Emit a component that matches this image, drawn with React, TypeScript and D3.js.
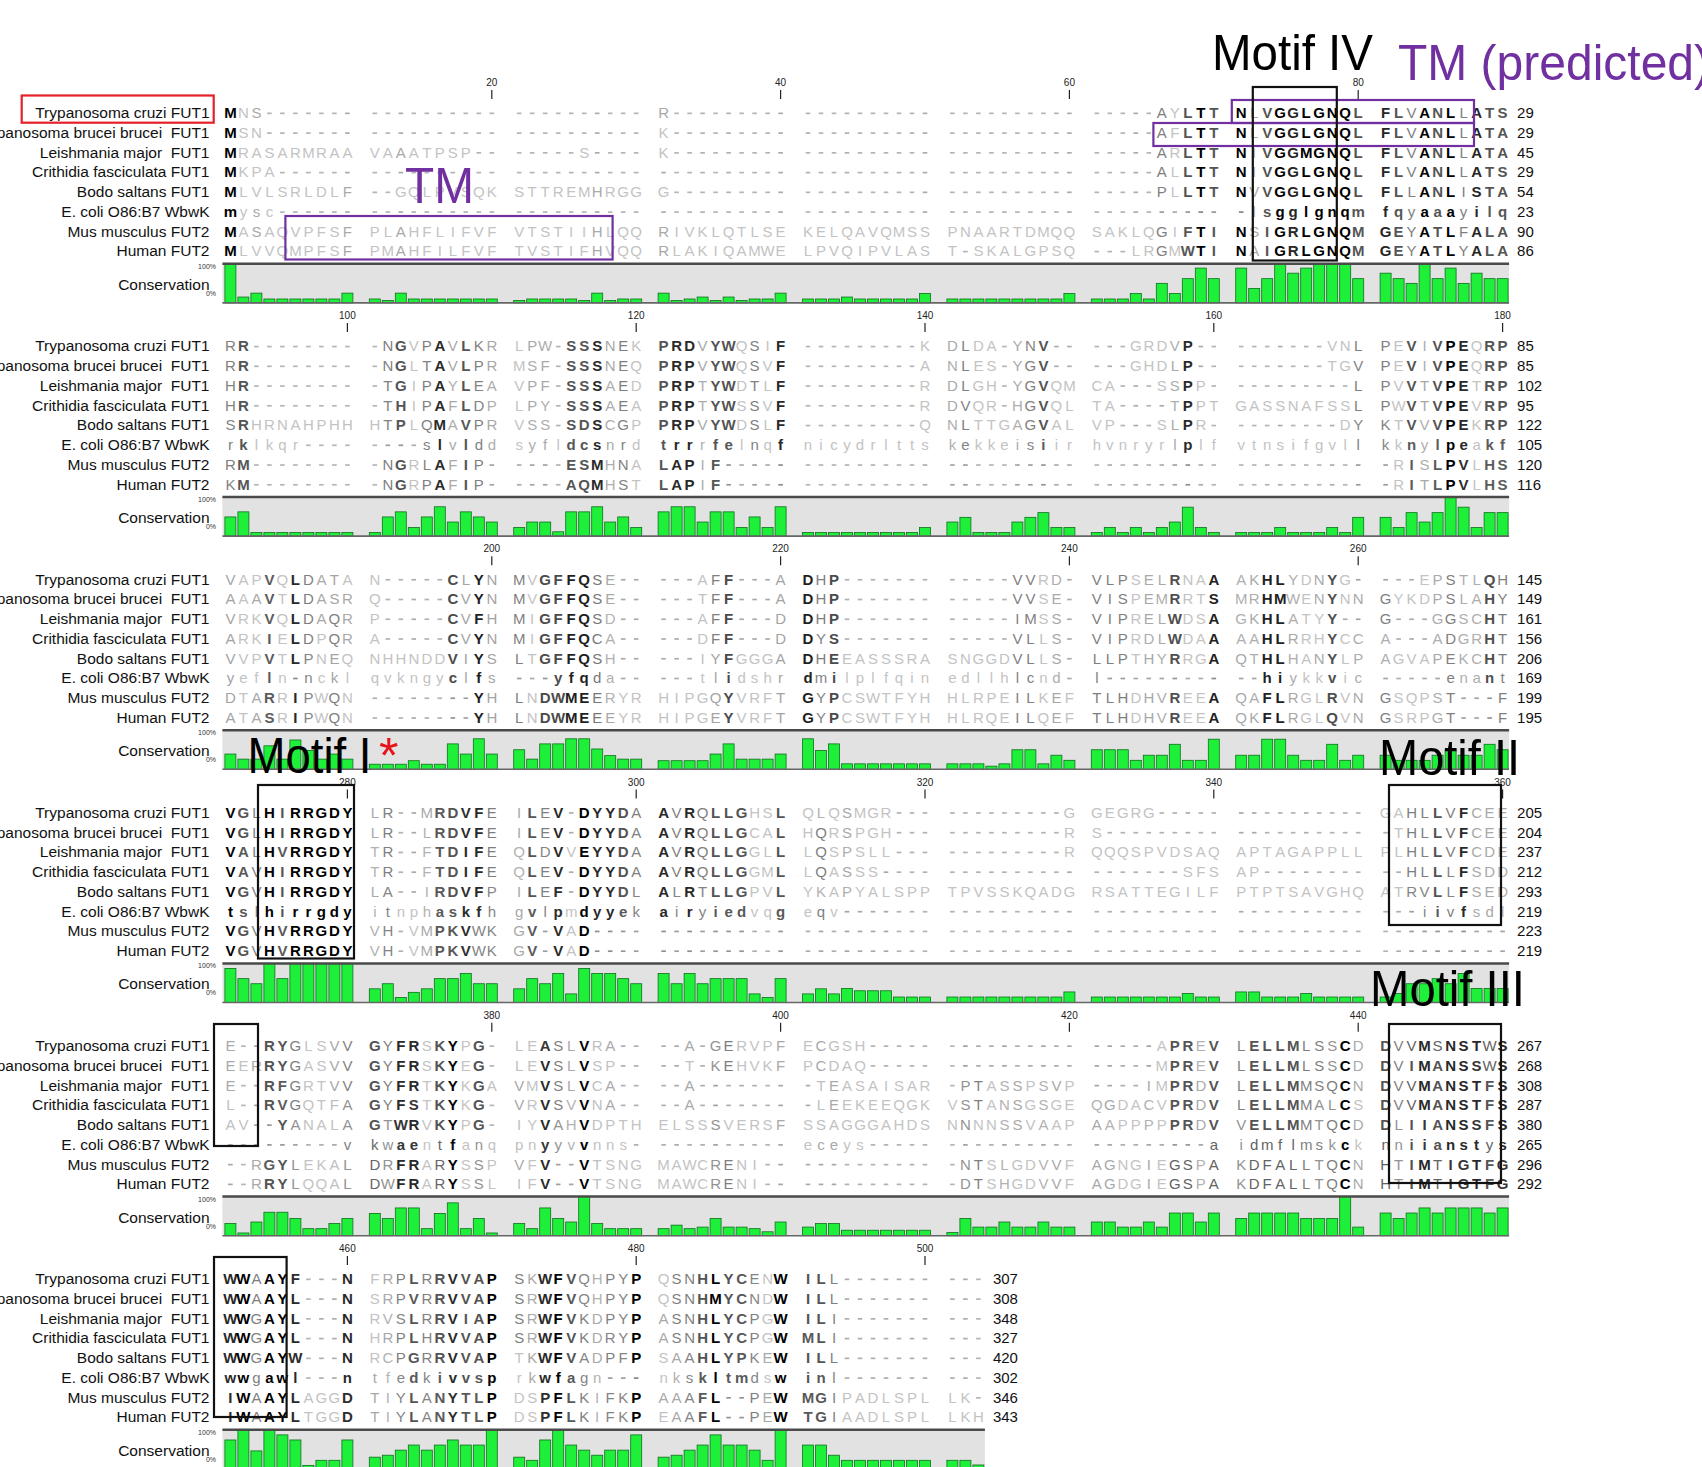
import React from 'react';
import * as d3 from 'd3';

// species names, as printed left of each row
const species = [
  'Trypanosoma cruzi FUT1',
  'Trypanosoma brucei brucei  FUT1',
  'Leishmania major  FUT1',
  'Crithidia fasciculata FUT1',
  'Bodo saltans FUT1',
  'E. coli O86:B7 WbwK',
  'Mus musculus FUT2',
  'Human FUT2',
];

// aligned sequences, one string per block (groups of 10 separated by spaces)
const seqTcruzi = [
  'MNS------- ---------- ---------- R--------- ---------- ---------- -----AYLTT NLVGGLGNQL FLVANLLATS',
  'RR-------- -NGVPAVLKR LPW-SSSNEK PRDVYWQSIF ---------K DLDA-YNV-- ---GRDVP-- -------VNL PEVIVPEQRP',
  'VAPVQLDATA N-----CLYN MVGFFQSE-- ---AFF---A DHP------- -----VVRD- VLPSELRNAA AKHLYDNYG- ---EPSTLQH',
  'VGLHIRRGDY LR--MRDVFE ILEV-DYYDA AVRQLLGHSL QLQSMGR--- ---------G GEGRG----- ---------- GAHLLVFCEE',
  'E--RYGLSVV GYFRSKYPG- LEASLVRA-- --A-GERVPF ECGSH----- ---------- -----APREV LELLMLSSCD DVVMSNSTWS',
  'WWAAYF---N FRPLRRVVAP SKWFVQHPYP QSNHLYCENW ILL------- ---',
];
const seqTbrucei = [
  'MSN------- ---------- ---------- K--------- ---------- ---------- -----AFLTT NLVGGLGNQL FLVANLLATA',
  'RR-------- -NGLTAVLPR MSF-SSSNEQ PRPVYWQSVF ---------A NLES-YGV-- ---GHDLP-- -------TGV PEVIVPEQRP',
  'AAAVTLDASR Q-----CVYN MVGFFQSE-- ---TFF---A DHP------- -----VVSE- VISPEMRRTS MRHMWENYNN GYKDPSLAHY',
  'VGLHIRRGDY LR--LRDVFE ILEV-DYYDA AVRQLLGCAL HQRSPGH--- ---------R S--------- ---------- -THLLVFCEE',
  'EERRYGASVV GYFRSKYEG- LEVSLVSP-- --T-KEHVKF PCDAQ----- ---------- -----MPREV LELLMLSSCD DVIMANSSWS',
  'WWAAYL---N SRPVRRVVAP SRWFVQHPYP QSNHMYCNDW ILL------- ---',
];
const seqLmajor = [
  'MRASARMRAA VAAATPSP-- -----S---- K--------- ---------- ---------- -----ARLTT NIVGGMGNQL FLVANLLATA',
  'HR-------- -TGIPAYLEA VPF-SSSAED PRPTYWDTLF ---------R DLGH-YGVQM CA---SSPP- ---------L PVVTVPETRP',
  'VRKVQLDAQR P-----CVFH MIGFFQSD-- ---AFF---D DHP------- -----IMSS- VIPRELWDSA GKHLATYY-- G---GGSCHT',
  'VALHVRRGDY TR--FTDIFE QLDVVEYYDA AVRQLLGGLL LQSPSLL--- ---------R QQQSPVDSAQ APTAGAPPLL PLHLLVFCDE',
  'E--RFGRTVV GYFRTKYKGA VMVSLVCA-- --A------- -TEASAISAR -PTASSPSVP ----IMPRDV LELLMMSQCN DVVMANSTFS',
  'WWGAYL---N RVSLRRVIAP SRWFVKDPYP ASNHLYCPGW ILI------- ---',
];
const seqCfasc = [
  'MKPA------ ---------- ---------- ---------- ---------- ---------- -----ALLTT NIVGGLGNQL FLVANLLATS',
  'HR-------- -THIPAFLDP LPY-SSSAEA PRPTYWSSVF ---------R DVQR-HGVQL TA----TPPT GASSNAFSSL PWVTVPEVRP',
  'ARKIELDPQR A-----CVYN MIGFFQCA-- ---DFF---D DYS------- -----VLLS- VIPRDLWDAA AAHLRRHYCC A---ADGRHT',
  'VAVHIRRGDY TR--FTDIFE QLEV-DYYDA AVRQLLGGML LQASSS---- ---------- -------SFS AP-------- --HLLLFSDD',
  'L--RVGQTFA GYFSTKYKG- VRVSVVNA-- --A------- -LEEKEEQGK VSTANSGSGE QGDACVPRDV LELLMMALCS DVVMANSTFS',
  'WWGAYL---N HRPLHRVVAP SRWFVKDRYP ASNHLYCPGW MLI------- ---',
];
const seqBodo = [
  'MLVLSRLDLF --GQLPVSQK STTREMHRGG G--------- ---------- ---------- -----PLLTT NVVGGLGNQL FLLANLISTA',
  'SRHRNAHPHH HTPLQMAVPR VSS-SDSCGP PRPVYWDSLF ---------Q NLTTGAGVAL VP---SLPR- --------DY KTVVVPEKRP',
  'VVPVTLPNEQ NHHNDDVIYS LTGFFQSH-- ---IYFGGGA DHEEASSSRA SNGGDVLLS- LLPTHYRRGA QTHLHANYLP AGVAPEKCHT',
  'VGVHIRRGDY LA--IRDVFP ILEF-DYYDL ALRTLLGPVL YKAPYALSPP TPVSSKQADG RSATTEGILF PTPTSAVGHQ ATRVLLFSED',
  'AV--YANALA GTWRVKYPG- IYVAHVDPTH ELSSSVERSF SSAGGGAHDS NNNNSSVAAP AAPPPPPRDV VELLMMTQCD DLIIANSSFS',
  'WWGAYW---N RCPGRRVVAP TKWFVADPFP SAAHLYPKEW ILL------- ---',
];
const seqEcoli = [
  'mysc------ ---------- ---------- ---------- ---------- ---------- ---------- -lsgglgnqm fqyaaayilq',
  'rklkqr---- ----slvldd syfldcsnrd trrrfelnqf nicydrltts kekkeisiir hvnryrlplf vtnsifgvll kknylpeakf',
  'yefln-nckl qvkngyclfs ---yfqda-- ---tlidshr dmilplfqin edllhlcnd- l--------- --hiykkvic -----enant',
  'tslhirrgdy itnphaskfh gvlpmdyyek airyiedvqg eqv------- ---------- ---------- ---------- ---iivfsdl',
  '---------v kwaentfanq pnyyvvnns- ---------- eceys----- ---------- ---------a idmflmskck nniianstys',
  'wwgawl---n tfedkivvsp rkwfagn--- nkskltmdsw inl------- ---',
];
const seqMus = [
  'MASAQVPFSF PLAHFLIFVF VTSTIIHLQQ RIVKLQTLSE KELQAVQMSS PNAARTDMQQ SAKLQGIFTI NSIGRLGNQM GEYATLFALA',
  'RM-------- -NGRLAFIP- ----ESMHNA LAPIF----- ---------- ---------- ---------- ---------- -RISLPVLHS',
  'DTARRIPWQN --------YH LNDWMEERYR HIPGQYVRFT GYPCSWTFYH HLRPEILKEF TLHDHVREEA QAFLRGLRVN GSQPST---F',
  'VGVHVRRGDY VH-VMPKVWK GV-VAD---- ---------- ---------- ---------- ---------- ---------- ----------',
  '--RGYLEKAL DRFRARYSSP VFV--VTSNG MAWCRENI-- ---------- -NTSLGDVVF AGNGIEGSPA KDFALLTQCN HTIMTIGTFG',
  'IWAAYLAGGD TIYLANYTLP DSPFLKIFKP AAAFL--PEW MGIPADLSPL LK-',
];
const seqHuman = [
  'MLVVQMPFSF PMAHFILFVF TVSTIFHVQQ RLAKIQAMWE LPVQIPVLAS T-SKALGPSQ ---LRGMWTI NAIGRLGNQM GEYATLYALA',
  'KM-------- -NGRPAFIP- ----AQMHST LAPIF----- ---------- ---------- ---------- ---------- -RITLPVLHS',
  'ATASRIPWQN --------YH LNDWMEEEYR HIPGEYVRFT GYPCSWTFYH HLRQEILQEF TLHDHVREEA QKFLRGLQVN GSRPGT---F',
  'VGVHVRRGDY VH-VMPKVWK GV-VAD---- ---------- ---------- ---------- ---------- ---------- ----------',
  '--RRYLQQAL DWFRARYSSL IFV--VTSNG MAWCRENI-- ---------- -DTSHGDVVF AGDGIEGSPA KDFALLTQCN HTIMTIGTFG',
  'IWAAYLTGGD TIYLANYTLP DSPFLKIFKP EAAFL--PEW TGIAADLSPL LKH',
];
const sequences = [seqTcruzi, seqTbrucei, seqLmajor, seqCfasc, seqBodo, seqEcoli, seqMus, seqHuman];

// residue counts printed at the end of each row, per block
const endNumbers = [
  [29, 29, 45, 29, 54, 23, 90, 86],
  [85, 85, 102, 95, 122, 105, 120, 116],
  [145, 149, 161, 156, 206, 169, 199, 195],
  [205, 204, 237, 212, 293, 219, 223, 219],
  [267, 268, 308, 287, 380, 265, 296, 292],
  [307, 308, 348, 327, 420, 302, 346, 343],
];

const blockStarts = [1, 91, 181, 271, 361, 451];
const rulerTicks = [
  [20, 40, 60, 80],
  [100, 120, 140, 160, 180],
  [200, 220, 240, 260],
  [280, 300, 320, 340, 360],
  [380, 400, 420, 440],
  [460, 480, 500],
];

// conservation (%) per alignment column
const cons1 = [
  100, 15, 25, 10, 10, 10, 10, 10, 10, 25,
  10, 6, 25, 10, 10, 10, 10, 10, 10, 10,
  6, 10, 10, 10, 10, 6, 25, 6, 10, 10,
  25, 6, 10, 15, 6, 15, 6, 10, 10, 25,
  10, 10, 10, 15, 10, 10, 10, 10, 10, 24,
  10, 10, 10, 10, 10, 10, 10, 10, 10, 24,
  10, 10, 10, 24, 10, 50, 24, 62, 89, 62,
  89, 37, 62, 100, 76, 89, 100, 100, 100, 62,
  76, 62, 50, 100, 62, 89, 50, 76, 62, 62,
];
const cons2 = [
  49, 62, 9, 9, 9, 9, 9, 9, 9, 9,
  9, 49, 62, 22, 49, 75, 36, 62, 49, 36,
  22, 36, 36, 11, 62, 62, 75, 36, 49, 22,
  62, 75, 75, 36, 62, 62, 22, 49, 22, 75,
  9, 9, 9, 9, 9, 9, 9, 9, 9, 22,
  36, 48, 9, 9, 9, 36, 48, 60, 22, 22,
  9, 22, 9, 22, 9, 22, 36, 74, 22, 9,
  9, 9, 9, 22, 9, 9, 9, 22, 9, 48,
  48, 22, 60, 36, 60, 100, 74, 22, 60, 60,
];
const cons3 = [
  39, 26, 26, 60, 26, 75, 48, 26, 39, 26,
  13, 13, 13, 22, 13, 13, 65, 39, 78, 39,
  50, 26, 65, 65, 78, 78, 52, 35, 26, 26,
  22, 22, 22, 22, 39, 65, 26, 26, 26, 39,
  78, 48, 65, 14, 14, 14, 14, 14, 14, 14,
  14, 14, 14, 8, 14, 50, 50, 14, 36, 23,
  50, 50, 50, 23, 36, 36, 64, 23, 23, 77,
  36, 36, 77, 77, 36, 23, 23, 64, 23, 36,
  36, 23, 23, 23, 36, 50, 36, 36, 64, 50,
];
const cons4 = [
  87, 61, 48, 100, 61, 100, 100, 100, 100, 100,
  35, 48, 13, 26, 35, 61, 61, 74, 48, 48,
  35, 61, 48, 74, 22, 87, 74, 74, 61, 48,
  74, 48, 74, 48, 61, 61, 61, 22, 13, 61,
  22, 35, 22, 36, 30, 30, 30, 14, 14, 14,
  14, 14, 14, 14, 14, 14, 14, 14, 14, 27,
  14, 14, 14, 14, 14, 14, 14, 23, 14, 14,
  27, 27, 14, 14, 14, 23, 14, 14, 14, 14,
  14, 23, 48, 48, 61, 48, 74, 36, 36, 36,
];
const cons5 = [
  31, 7, 35, 60, 60, 44, 18, 18, 31, 44,
  57, 44, 71, 71, 18, 57, 84, 18, 44, 7,
  31, 18, 71, 44, 35, 100, 31, 18, 18, 18,
  18, 27, 18, 22, 44, 22, 22, 18, 10, 35,
  22, 31, 31, 14, 14, 14, 14, 14, 14, 14,
  8, 44, 22, 22, 35, 22, 22, 35, 22, 22,
  35, 35, 22, 22, 35, 22, 58, 58, 35, 58,
  44, 58, 58, 58, 58, 44, 44, 44, 100, 22,
  58, 44, 58, 71, 58, 71, 71, 71, 58, 71,
];
const cons6 = [
  74, 100, 46, 100, 87, 74, 9, 22, 22, 74,
  30, 35, 48, 61, 48, 61, 74, 61, 61, 100,
  30, 22, 74, 100, 61, 48, 35, 48, 48, 87,
  30, 35, 48, 61, 87, 61, 61, 48, 22, 100,
  61, 61, 35, 22, 22, 22, 22, 22, 22, 22,
  22, 22, 10,
];
const conservation = [cons1, cons2, cons3, cons4, cons5, cons6];

const PURPLE = '#7030a0';
const FONT = '"Liberation Sans", Arial, Helvetica, sans-serif';

// layout
const COL0 = 230.4;
const CW = 13.0;
const GAP = 14.4;
const ROW0 = 112.9;
const BLOCK_H = 233.2;
const ROW_H = 19.75;

const xScale = d3.scaleLinear().domain([0, 1]).range([COL0, COL0 + CW]);
const colX = (c: number) => xScale(c - 1 + Math.floor((c - 1) / 10) * (GAP / CW));
const rowY = (b: number, r: number) => ROW0 + b * BLOCK_H + r * ROW_H;

const motifBoxes = [
  { b: 0, c0: 72, dx0: -1.4, c1: 78, dx1: 4.6, top: -25.9, bottom: 147.6 },
  { b: 3, c0: 3, dx0: 1.6, c1: 10, dx1: 6.6, top: -27.5, bottom: 146 },
  { b: 3, c0: 81, dx0: 3.4, c1: 90, dx1: -1.6, top: -27.5, bottom: 112.5 },
  { b: 4, c0: 1, dx0: -16.4, c1: 3, dx1: 1.6, top: -21.7, bottom: 100.3 },
  { b: 4, c0: 81, dx0: 3.4, c1: 90, dx1: -1.6, top: -21.7, bottom: 137.3 },
  { b: 5, c0: 1, dx0: -16.4, c1: 5, dx1: 4.2, top: -21.9, bottom: 138.1 },
];
const tmBoxes = [
  { b: 0, c0: 71, dx0: -9.4, c1: 87, dx1: 10.4, top: -12.9, bottom: 10.1 },
  { b: 0, c0: 66, dx0: -8.4, c1: 87, dx1: 10.4, top: 10.1, bottom: 33.1 },
  { b: 0, c0: 5, dx0: 3, c1: 28, dx1: 2.4, top: 103.1, bottom: 146.6 },
];
const annotations = [
  { text: 'Motif IV', x: 1212, y: 70, len: 161, fill: '#000' },
  { text: 'TM (predicted)', x: 1398, y: 80, len: 312, fill: PURPLE },
  { text: 'TM', x: 405, y: 203, len: 69, fill: PURPLE },
  { text: 'Motif I', x: 247.5, y: 773, len: 124, fill: '#000' },
  { text: '*', x: 379, y: 773, len: 0, fill: '#e8141b' },
  { text: 'Motif II', x: 1379, y: 775, len: 141, fill: '#000' },
  { text: 'Motif III', x: 1370, y: 1006, len: 155, fill: '#000' },
];

function shade(d: number) {
  const g = Math.round(Math.max(0, Math.min(195, 195 - (d - 0.3) * 342)));
  return `rgb(${g},${g},${g})`;
}

function Block({ b }: { b: number }) {
  const rows = sequences.map((s) => s[b].replace(/ /g, ''));
  const nCols = rows[0].length;
  const cons = conservation[b];
  const y1 = rowY(b, 0);
  const consTop = y1 + 150.9;
  const consBottom = y1 + 190;
  const hScale = d3.scaleLinear().domain([0, 100]).range([0, consBottom - consTop]);
  const lastX = colX(nCols);

  return (
    <g>
      {/* ruler */}
      {rulerTicks[b].map((t) => {
        const x = colX(t - blockStarts[b] + 1);
        return (
          <g key={t}>
            <text x={x} y={y1 - 27} textAnchor="middle" fontSize={10} fill="#222">{t}</text>
            <line x1={x} x2={x} y1={y1 - 23} y2={y1 - 14} stroke="#222" strokeWidth={1.2} />
          </g>
        );
      })}
      {/* labels */}
      {species.map((name, r) => (
        <text key={name} x={209.5} y={rowY(b, r) + 5.3} textAnchor="end" fontSize={15.5}
          fill="#111" style={{ whiteSpace: 'pre' }}>{name}</text>
      ))}
      {/* residues */}
      {rows.map((row, r) => (
        <g key={r}>
          {row.split('').map((ch, i) => {
            const x = colX(i + 1);
            const col = rows.map((rr) => rr[i].toUpperCase());
            const count = col.filter((c) => c === ch.toUpperCase()).length;
            const d = Math.max(cons[i] / 100, ch === '-' ? 0 : count / 8);
            if (ch === '-') {
              const g = Math.min(200, Math.round(150 + (0.6 - cons[i] / 100) * 60));
              return <rect key={i} x={x - 2.3} y={rowY(b, r) - 0.4} width={4.6} height={1.7}
                fill={`rgb(${g},${g},${g})`} />;
            }
            return (
              <text key={i} x={x} y={rowY(b, r) + 5.3} textAnchor="middle" fontSize={15}
                fontWeight={d >= 0.6 ? 'bold' : 'normal'} fill={shade(d)}>{ch}</text>
            );
          })}
          <text x={lastX + 14.5} y={rowY(b, r) + 5.3} fontSize={15} fill="#111">{endNumbers[b][r]}</text>
        </g>
      ))}
      {/* conservation track */}
      <rect x={colX(1) - 8} y={consTop} width={lastX + 6.5 - (colX(1) - 8)} height={consBottom - consTop} fill="#e2e2e2" />
      {cons.map((v, i) => (
        <rect key={i} x={colX(i + 1) - 5.5} y={consBottom - hScale(v)} width={11} height={hScale(v)}
          fill="#1ef03a" stroke="#0d6e1c" strokeWidth={0.8} />
      ))}
      <line x1={colX(1) - 8} x2={lastX + 6.5} y1={consTop} y2={consTop} stroke="#4a4a4a" strokeWidth={2.5} />
      <line x1={colX(1) - 8} x2={lastX + 6.5} y1={consBottom} y2={consBottom} stroke="#666" strokeWidth={1.6} />
      <text x={216} y={consTop + 5} textAnchor="end" fontSize={7} fill="#333">100%</text>
      <text x={209.5} y={consTop + 26} textAnchor="end" fontSize={15.5} fill="#111">Conservation</text>
      <text x={216} y={consTop + 32} textAnchor="end" fontSize={7} fill="#333">0%</text>
    </g>
  );
}

export default function App() {
  const boxRect = (bx: typeof motifBoxes[number], stroke: string, key: string) => {
    const x0 = colX(bx.c0) + bx.dx0;
    const x1 = colX(bx.c1) + bx.dx1;
    const y0 = rowY(bx.b, 0) + bx.top;
    const y1 = rowY(bx.b, 0) + bx.bottom;
    return <rect key={key} x={x0} y={y0} width={x1 - x0} height={y1 - y0} fill="none" stroke={stroke} strokeWidth={2.2} />;
  };
  return (
    <svg width={1702} height={1467} style={{ position: 'absolute', left: 0, top: 0, background: '#fff' }}
      fontFamily={FONT}>
      <rect x={0} y={0} width={1702} height={1467} fill="#fff" />
      {blockStarts.map((_, b) => <Block key={b} b={b} />)}
      <rect x={21.7} y={95.5} width={192} height={27.2} fill="none" stroke="#e5202a" strokeWidth={2.2} />
      {tmBoxes.map((bx, i) => boxRect(bx, PURPLE, 'tm' + i))}
      {motifBoxes.map((bx, i) => boxRect(bx, '#111', 'm' + i))}
      {annotations.map((a) => (
        <text key={a.text} x={a.x} y={a.y} fontSize={50} fill={a.fill}
          {...(a.len ? { textLength: a.len, lengthAdjust: 'spacingAndGlyphs' } : {})}>{a.text}</text>
      ))}
    </svg>
  );
}
